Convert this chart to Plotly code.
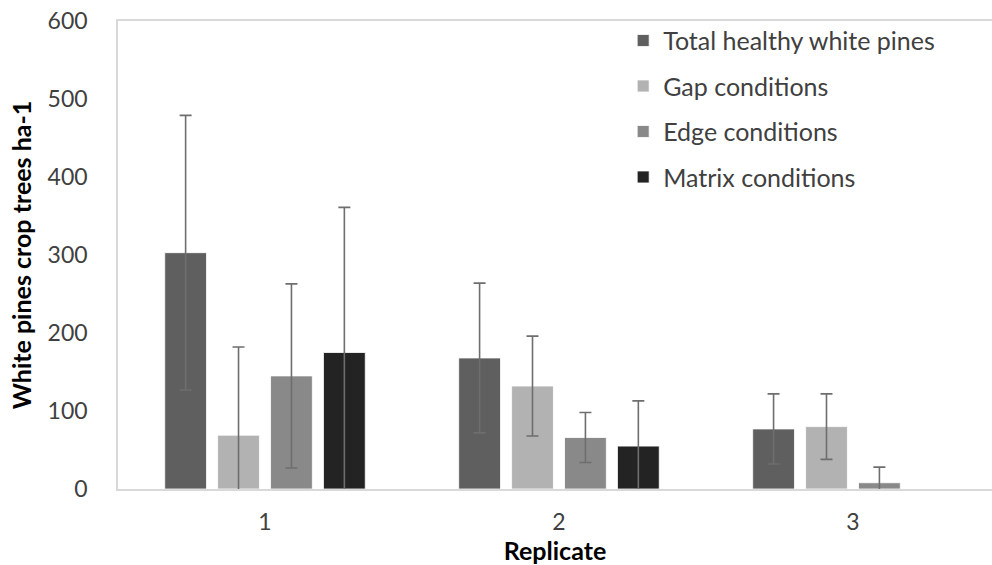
import plotly.graph_objects as go

# Crop-tree density by replicate and stand condition (mean ± SE)
replicates = ["1", "2", "3"]
series_names = ["Total healthy white pines", "Gap conditions", "Edge conditions", "Matrix conditions"]
series_colors = ["#5f5f5f", "#b2b2b2", "#898989", "#232323"]

total_vals = [303, 168, 77]
gap_vals = [69, 132, 80]
edge_vals = [145, 66, 8]
matrix_vals = [175, 55, None]

total_err = [176, 96, 45]
gap_err = [113, 64, 42]
edge_err = [118, 32, 20]
matrix_err = [186, 58, None]

values = [total_vals, gap_vals, edge_vals, matrix_vals]
errors = [total_err, gap_err, edge_err, matrix_err]

FONT = "Lato"
TICK_SIZE = 23
LEGEND_SIZE = 25
TITLE_SIZE = 25

fig = go.Figure()
for name, color, vals, errs in zip(series_names, series_colors, values, errors):
    fig.add_trace(go.Bar(
        x=replicates,
        y=vals,
        name=name,
        legendgroup=name,
        marker=dict(color=color, line=dict(color="#ffffff", width=0.8)),
        error_y=dict(type="data", array=errs, visible=True,
                     color="#6e6e6e", thickness=1.6, width=6),
    ))

fig.update_layout(
    width=992,
    height=565,
    margin=dict(l=118, r=0, t=21, b=76),
    paper_bgcolor="#ffffff",
    plot_bgcolor="#ffffff",
    barmode="group",
    bargap=0.28,
    bargroupgap=0.21,
    font=dict(family=FONT, size=TICK_SIZE, color="#404040"),
    legend=dict(
        x=0.578, y=1.007, xanchor="left", yanchor="top",
        font=dict(family=FONT, size=LEGEND_SIZE, color="#404040"),
        tracegroupgap=10,
        bgcolor="rgba(0,0,0,0)",
    ),
    xaxis=dict(
        type="category",
        range=[-0.5, 2.473],
        showline=True, linecolor="#d9d9d9", linewidth=1.5, mirror=True,
        showgrid=False, ticks="", zeroline=False,
        tickfont=dict(family=FONT, size=TICK_SIZE, color="#404040"),
        ticklabelstandoff=12,
        title=dict(text="<b>Replicate</b>", font=dict(family=FONT, size=TITLE_SIZE, color="#000000"), standoff=0),
    ),
    yaxis=dict(
        range=[0, 600],
        tickvals=[0, 100, 200, 300, 400, 500, 600],
        showline=True, linecolor="#d9d9d9", linewidth=1.5,
        showgrid=False, ticks="", zeroline=False,
        tickfont=dict(family=FONT, size=TICK_SIZE, color="#404040"),
        ticklabelstandoff=24,
        title=dict(text="<b>White pines crop trees ha-1</b>", font=dict(family=FONT, size=TITLE_SIZE, color="#000000"), standoff=9),
    ),
)

fig.write_html("out.html")
